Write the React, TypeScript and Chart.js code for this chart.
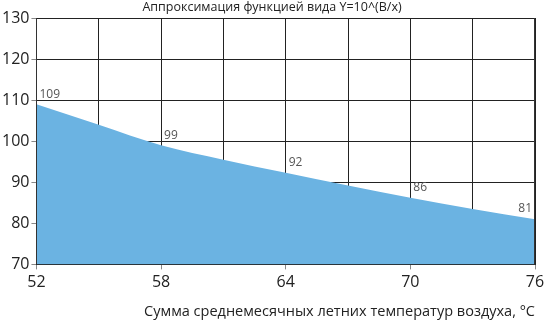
import React, { useEffect, useRef } from "react";
import { Chart, registerables } from "chart.js";

Chart.register(...registerables);

const TITLE = "Аппроксимация функцией вида Y=10^(B/x)";
const X_TITLE = "Сумма среднемесячных летних температур воздуха, °C";
const xValues = [52, 55, 58, 61, 64, 67, 70, 73, 76];
const yValues = [109, 104, 99, 95.5, 92.3, 89.2, 86.2, 83.5, 81];
const labelX = [52, 58, 64, 70, 76];
const labelText = ["109", "99", "92", "86", "81"];

const FONT = "'Open Sans', 'DejaVu Sans', sans-serif";

const valueLabels = {
  id: "valueLabels",
  afterDatasetsDraw(chart: any) {
    const { ctx, chartArea, scales } = chart;
    ctx.save();
    ctx.strokeStyle = "#333";
    ctx.lineWidth = 1;
    ctx.beginPath();
    const xl = Math.round(chartArea.left) + 0.5;
    const xr = Math.round(chartArea.right) - 0.5;
    ctx.moveTo(xl, chartArea.top);
    ctx.lineTo(xl, chartArea.bottom);
    ctx.moveTo(xr, chartArea.top);
    ctx.lineTo(xr, chartArea.bottom);
    ctx.stroke();
    ctx.font = `12px ${FONT}`;
    ctx.fillStyle = "#555";
    ctx.textBaseline = "bottom";
    labelX.forEach((xv, i) => {
      const idx = xValues.indexOf(xv);
      const px = scales.x.getPixelForValue(xv);
      const py = scales.y.getPixelForValue(yValues[idx]);
      if (i === labelX.length - 1) {
        ctx.textAlign = "right";
        ctx.fillText(labelText[i], px - 3, py - 5);
      } else {
        ctx.textAlign = "left";
        ctx.fillText(labelText[i], px + 3, py - 4);
      }
    });
    ctx.restore();
  },
};

export default function App() {
  const ref = useRef<HTMLCanvasElement>(null);
  useEffect(() => {
    document.body.style.margin = "0";
    const chart = new Chart(ref.current!, {
      type: "line",
      data: {
        datasets: [
          {
            data: xValues.map((x, i) => ({ x, y: yValues[i] })),
            backgroundColor: "#6bb3e2",
            borderWidth: 0,
            pointRadius: 0,
            fill: "start",
            cubicInterpolationMode: "monotone",
          },
        ],
      },
      options: {
        animation: false,
        responsive: false,
        maintainAspectRatio: false,
        layout: { padding: { top: 0, right: 0, left: 0, bottom: 0 } },
        plugins: {
          legend: { display: false },
          tooltip: { enabled: false },
          title: {
            display: true,
            text: TITLE,
            color: "#222",
            font: { family: FONT, size: 12.5, weight: "normal" },
            padding: { top: 0, bottom: 3 },
          },
        },
        scales: {
          x: {
            type: "linear",
            min: 52,
            max: 76,
            afterFit: (s: any) => {
              s.paddingRight = 9;
            },
            ticks: {
              stepSize: 3,
              autoSkip: false,
              maxRotation: 0,
              color: "#222",
              font: { family: FONT, size: 16 },
              padding: 3,
              callback: (v: any) => ((v - 52) % 6 === 0 ? String(v) : ""),
            },
            grid: {
              color: "#222",
              lineWidth: 1,
              tickLength: 5,
              tickColor: (c: any) =>
                c.tick && (c.tick.value - 52) % 6 === 0 ? "#888" : "rgba(0,0,0,0)",
            },
            border: { display: true, color: "#222" },
            title: {
              display: true,
              text: X_TITLE,
              align: "end",
              color: "#222",
              font: { family: FONT, size: 14.5 },
              padding: { top: 9, bottom: 0 },
            },
          },
          y: {
            min: 70,
            max: 130,
            ticks: {
              stepSize: 10,
              color: "#222",
              font: { family: FONT, size: 16 },
              padding: 2,
            },
            grid: { color: "#222", lineWidth: 1, tickLength: 5, tickColor: "#888" },
            border: { display: true, color: "#222" },
          },
        },
      },
      plugins: [valueLabels],
    } as any);
    return () => chart.destroy();
  }, []);
  return (
    <div style={{ position: "absolute", left: 0, top: 0, width: 544, height: 321, background: "#fff" }}>
      <canvas ref={ref} width={544} height={321} style={{ width: 544, height: 321 }} />
    </div>
  );
}
